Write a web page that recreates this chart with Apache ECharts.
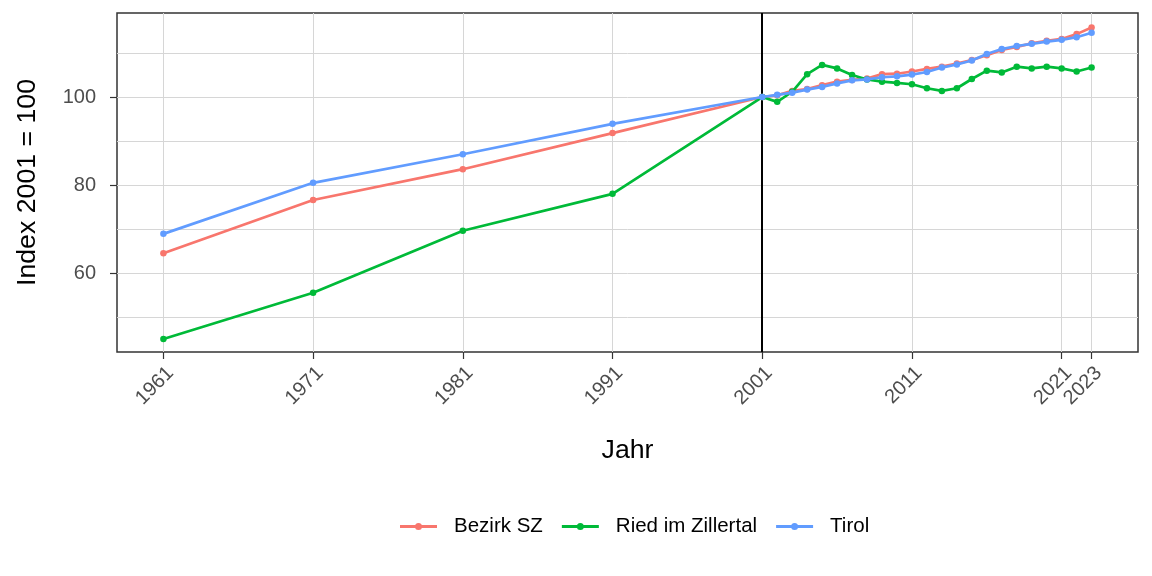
<!DOCTYPE html>
<html>
<head>
<meta charset="utf-8">
<script src="https://cdn.jsdelivr.net/npm/echarts@6/dist/echarts.min.js"></script>
<style>
html,body{margin:0;padding:0;background:#fff;}
#chart{width:1152px;height:576px;}
</style>
</head>
<body>
<div id="chart"></div>
<script>
const years = [1961,1971,1981,1991,2001,2002,2003,2004,2005,2006,2007,2008,2009,2010,2011,2012,2013,2014,2015,2016,2017,2018,2019,2020,2021,2022,2023];
const bezirkSZ = [64.5,76.6,83.6,91.8,100,100.4,101.4,101.8,102.7,103.5,103.9,104.2,105.2,105.3,105.8,106.4,106.9,107.6,108.4,109.5,110.7,111.4,112.2,112.8,113.2,114.3,115.8];
const riedZillertal = [45.0,55.5,69.6,78.0,100,98.9,101.2,105.2,107.3,106.5,105.0,104.0,103.5,103.2,102.9,102.0,101.4,102.0,104.1,106.0,105.6,106.9,106.5,106.9,106.5,105.8,106.7];
const tirol = [68.9,80.5,87.0,93.9,100,100.5,101.0,101.7,102.3,103.1,103.8,104.0,104.5,104.7,105.1,105.7,106.7,107.4,108.3,109.8,110.9,111.6,112.1,112.6,113.0,113.6,114.6];
const seriesNames = ['Bezirk SZ','Ried im Zillertal','Tirol'];
const xTicks = [1961,1971,1981,1991,2001,2011,2021,2023];
const yTicks = [60,80,100];
const yGrid = [50,60,70,80,90,100,110];
const refYear = 2001;
const colors = ['#F8766D','#00BA38','#619CFF'];

const FONT = 'Liberation Sans, Arial, sans-serif';
const chart = echarts.init(document.getElementById('chart'), null, {renderer:'canvas'});
const mk = (name, vals, i) => ({
  name: name,
  type: 'line',
  data: years.map((y, k) => [y, vals[k]]),
  color: colors[i],
  lineStyle: {width: 2.7, color: colors[i]},
  itemStyle: {color: colors[i]},
  symbol: 'circle',
  symbolSize: 6.5,
  showSymbol: true,
  xAxisIndex: 0,
  yAxisIndex: 0,
  z: 3 + i
});
const series = [
  mk(seriesNames[0], bezirkSZ, 0),
  mk(seriesNames[1], riedZillertal, 1),
  mk(seriesNames[2], tirol, 2)
];
series[0].markLine = {
  silent: true,
  symbol: ['none','none'],
  label: {show: false},
  lineStyle: {color: '#000', width: 2, type: 'solid'},
  data: [{xAxis: refYear}],
  z: 2
};
const legendIcon = 'path://M0,2 L37,2 L37,5 L0,5 Z M15,3.5 A3.5,3.5 0 1,1 22,3.5 A3.5,3.5 0 1,1 15,3.5 Z';

chart.setOption({
  animation: false,
  backgroundColor: '#fff',
  grid: {left: 117, right: 14, top: 13, bottom: 224, show: true, borderColor: '#333', borderWidth: 1.5, backgroundColor: 'transparent'},
  legend: {
    top: 516, left: 400, padding: 0,
    itemWidth: 37, itemHeight: 7, itemGap: 19,
    textStyle: {fontSize: 20.5, color: '#000', fontFamily: FONT, padding: [0,0,0,12]},
    data: seriesNames.map(n => ({name: n, icon: legendIcon}))
  },
  xAxis: [{
    type: 'value', min: 1957.9, max: 2026.1,
    name: 'Jahr', nameLocation: 'middle', nameGap: 85,
    nameTextStyle: {fontSize: 26.7, color: '#000', fontFamily: FONT},
    axisLine: {show: false},
    axisTick: {show: true, customValues: xTicks, length: 7, lineStyle: {color: '#333', width: 1.2}},
    axisLabel: {customValues: xTicks, rotate: 45, margin: 11, verticalAlign: 'top', fontSize: 20, color: '#4d4d4d', fontFamily: FONT, formatter: v => String(v)},
    splitLine: {show: true, customValues: xTicks, lineStyle: {color: '#d6d6d6', width: 1}}
  }],
  yAxis: [{
    type: 'value', min: 42.05, max: 119.1,
    axisLine: {show: false},
    axisTick: {show: false, customValues: yGrid},
    axisLabel: {show: false, customValues: yGrid},
    splitLine: {show: true, customValues: yGrid, lineStyle: {color: '#d6d6d6', width: 1}}
  }, {
    type: 'value', min: 42.05, max: 119.1, position: 'left',
    name: 'Index 2001 = 100', nameLocation: 'middle', nameGap: 76, nameRotate: 90,
    nameTextStyle: {fontSize: 26.7, color: '#000', fontFamily: FONT},
    axisLine: {show: false},
    axisTick: {show: true, customValues: yTicks, length: 7, lineStyle: {color: '#333', width: 1.2}},
    axisLabel: {customValues: yTicks, margin: 21, fontSize: 20, color: '#4d4d4d', fontFamily: FONT},
    splitLine: {show: false}
  }],
  series: series
});
</script>
</body>
</html>
